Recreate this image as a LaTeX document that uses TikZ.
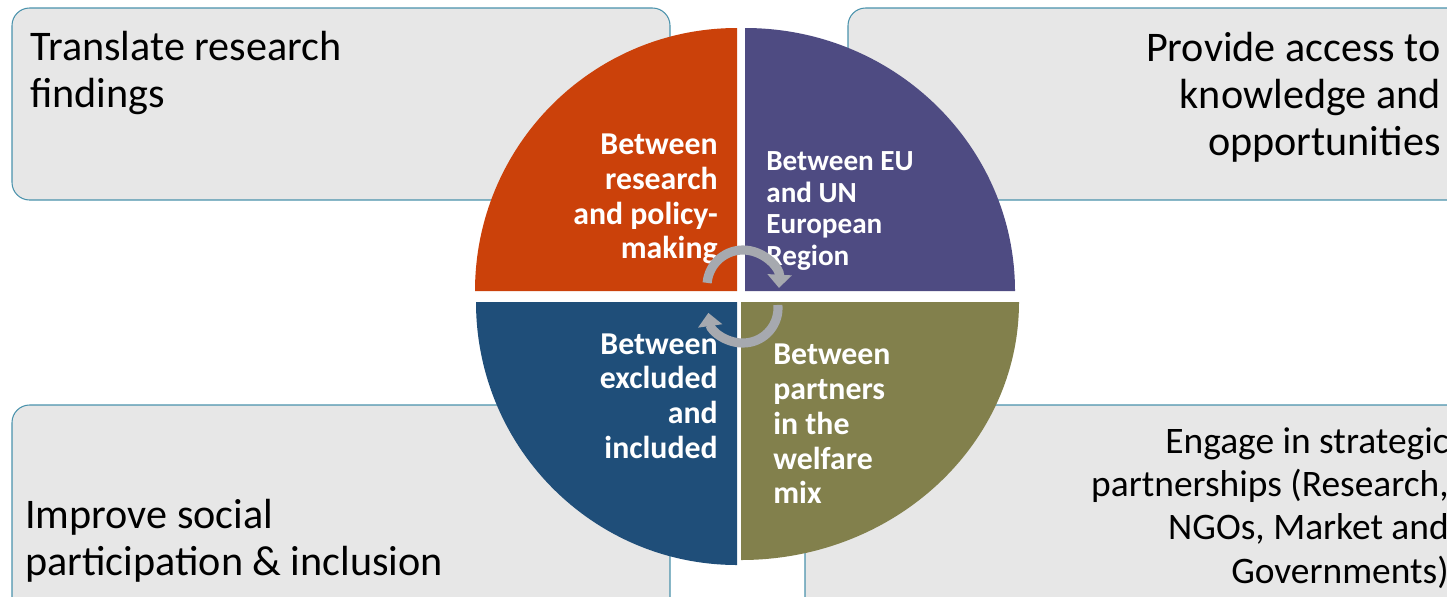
\documentclass[tikz,border=0pt]{standalone}
\usepackage{fontspec}
\setmainfont{Carlito}
\usepackage{tikz}
\usetikzlibrary{arrows.meta}

\definecolor{boxgray}{RGB}{231,231,231}
\definecolor{boxline}{RGB}{74,146,172}
\definecolor{quadorange}{RGB}{203,65,10}
\definecolor{quadpurple}{RGB}{78,75,130}
\definecolor{quadblue}{RGB}{31,78,121}
\definecolor{quadolive}{RGB}{130,128,76}
\definecolor{arrowgray}{RGB}{166,169,175}

\begin{document}
\begin{tikzpicture}[x=0.02cm,y=-0.02cm,
  goalbox/.style={fill=boxgray,draw=boxline,line width=0.6pt,rounded corners=10pt},
  goaltext/.style={inner sep=0pt,font=\fontsize{24}{26.8}\selectfont},
  quadtext/.style={inner sep=0pt,text=white,font=\bfseries\fontsize{18.1}{19.8}\selectfont},
  cyclearrow/.style={draw=arrowgray,line width=5.2pt,-{Triangle[width=13.5pt,length=7.5pt]}}]
  \path[use as bounding box] (0,0) rectangle (1447,596);
  \path[clip] (0,0) rectangle (1447,596);
  % corner boxes, partly cut at the page edge
  \path[goalbox] (12,8) rectangle (670,200);
  \path[goalbox] (848,8) rectangle (1480,200);
  \path[goalbox] (12,405) rectangle (670,630);
  \path[goalbox] (805,405) rectangle (1480,630);
  % the four quarters
  \foreach \cx/\cy/\sa/\rx/\ry/\col in {737/291/180/262/263/quadorange,
      745/291/270/270/263/quadpurple, 737/302/90/261/263/quadblue,
      741/302/0/278/258/quadolive}{
    \path[fill=\col] (\cx,\cy) -- ++({\rx*cos(\sa)},{\ry*sin(\sa)})
      arc[start angle=\sa,delta angle=90,x radius=\rx,y radius=\ry] -- cycle;
  }
  \node[goaltext,anchor=west,align=left] (translate) at (30,73)
    {Translate research\\findings};
  \node[goaltext,anchor=east,align=right] (access) at (1441,97)
    {Provide access to\\knowledge and\\opportunities};
  \node[goaltext,anchor=west,align=left] (improve) at (25,541)
    {Improve social\\participation \& inclusion};
  \node[goaltext,anchor=east,align=right,font=\fontsize{21.3}{24.6}\selectfont] (engage) at (1449,508)
    {Engage in strategic\\partnerships (Research,\\NGOs, Market and\\Governments)};
  \node[quadtext,anchor=east,align=right] (research) at (718,199)
    {Between\\research\\and policy-\\making};
  \node[quadtext,anchor=west,align=left,font=\bfseries\fontsize{16.6}{18.2}\selectfont] (euun) at (766,211)
    {Between EU\\and UN\\European\\Region};
  \node[quadtext,anchor=east,align=right] (excluded) at (718,396)
    {Between\\excluded\\and\\included};
  \node[quadtext,anchor=west,align=left] (partners) at (773,424)
    {Between\\partners\\in the\\welfare\\mix};
  % turning arrows in the middle
  \coordinate (hub) at (743,297);
  \path[cyclearrow] (hub) ++(0,-11) ++(185:36) arc[start angle=185,end angle=363,radius=36];
  \path[cyclearrow] (hub) ++(0,11) ++(-5:35) arc[start angle=-5,end angle=172,radius=35];
\end{tikzpicture}
\end{document}
